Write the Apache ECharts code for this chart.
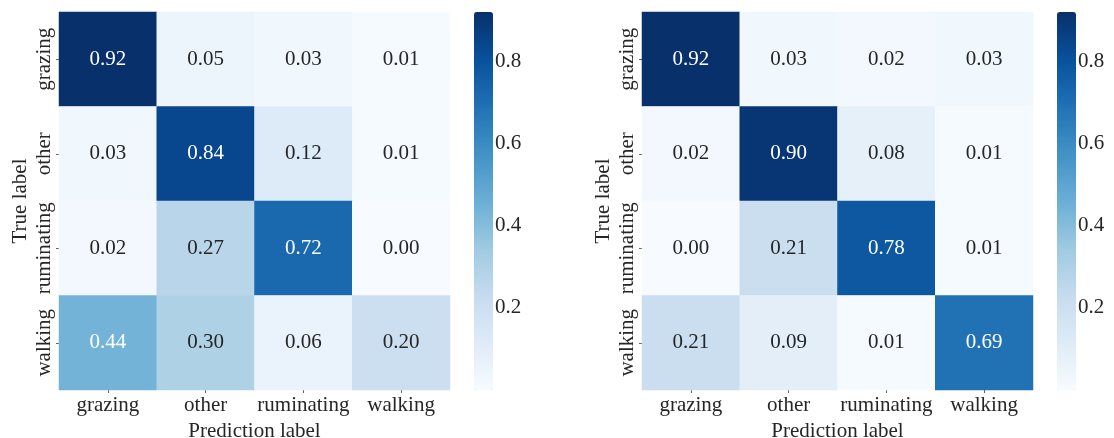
<!DOCTYPE html>
<html>
<head>
<meta charset="utf-8">
<script src="https://cdn.jsdelivr.net/npm/echarts@6/dist/echarts.min.js"></script>
<style>
html,body{margin:0;padding:0;background:#fff;}
#chart{width:1114px;height:438px;}
</style>
</head>
<body>
<div id="chart"></div>
<script>
// ---- data ----
const categories = ['grazing', 'other', 'ruminating', 'walking'];
const leftValues = [
  [0.92, 0.05, 0.03, 0.01],
  [0.03, 0.84, 0.12, 0.01],
  [0.02, 0.27, 0.72, 0.00],
  [0.44, 0.30, 0.06, 0.20]
];
const rightValues = [
  [0.92, 0.03, 0.02, 0.03],
  [0.02, 0.90, 0.08, 0.01],
  [0.00, 0.21, 0.78, 0.01],
  [0.21, 0.09, 0.01, 0.69]
];
const colorbarTicks = [0.2, 0.4, 0.6, 0.8];
const colorMin = 0.0;
const colorMax = 0.92;
const xName = 'Prediction label';
const yName = 'True label';

// ---- styling ----
const FONT = "'Liberation Serif','Times New Roman',serif";
const FS = 21;
const blues = ['#f7fbff','#deebf7','#c6dbef','#9ecae1','#6baed6','#4292c6','#2171b5','#08519c','#08306b'];
const panels = [
  {vals: leftValues, gridLeft: 59, gridWidth: 391, cbLeft: 474},
  {vals: rightValues, gridLeft: 642, gridWidth: 391, cbLeft: 1057}
];
const TOP = 12, HEIGHT = 378, CBW = 19;

function toData(vals) {
  const d = [];
  vals.forEach((row, yi) => row.forEach((v, xi) => {
    d.push({value: [xi, yi, v], label: {color: v > 0.4 ? '#ffffff' : '#262626'}});
  }));
  return d;
}

const grid = [], xAxis = [], yAxis = [], series = [], visualMap = [];
panels.forEach((p, i) => {
  grid.push({left: p.gridLeft, top: TOP, width: p.gridWidth, height: HEIGHT, containLabel: false, outerBoundsMode: 'none'});
  grid.push({left: p.cbLeft, top: TOP, width: CBW, height: HEIGHT, containLabel: false, outerBoundsMode: 'none'});
  xAxis.push({
    gridIndex: 2 * i, type: 'category', data: categories,
    axisLine: {show: false},
    axisTick: {show: true, alignWithLabel: true, interval: 0, length: 3, lineStyle: {color: '#666'}},
    axisLabel: {interval: 0, hideOverlap: false, fontFamily: FONT, fontSize: FS, color: '#262626', margin: 5},
    splitLine: {show: false},
    name: xName, nameLocation: 'middle', nameGap: 26,
    nameTextStyle: {fontFamily: FONT, fontSize: FS, color: '#262626'}
  });
  xAxis.push({gridIndex: 2 * i + 1, type: 'value', show: false, min: 0, max: 1});
  yAxis.push({
    gridIndex: 2 * i, type: 'category', data: categories, inverse: true,
    axisLine: {show: false},
    axisTick: {show: true, alignWithLabel: true, interval: 0, length: 3, lineStyle: {color: '#666'}},
    axisLabel: {interval: 0, hideOverlap: false, fontFamily: FONT, fontSize: FS, color: '#262626', rotate: 90, margin: 4},
    splitLine: {show: false},
    name: yName, nameLocation: 'middle', nameGap: 28, nameRotate: 90,
    nameTextStyle: {fontFamily: FONT, fontSize: FS, color: '#262626'}
  });
  yAxis.push({
    gridIndex: 2 * i + 1, type: 'value', position: 'right', min: colorMin, max: colorMax,
    axisLine: {show: false},
    splitLine: {show: false},
    axisTick: {show: true, length: 3, customValues: colorbarTicks, lineStyle: {color: '#444'}},
    axisLabel: {show: true, customValues: colorbarTicks, margin: 2, fontFamily: FONT, fontSize: FS, color: '#262626',
      formatter: v => v.toFixed(1)}
  });
  series.push({
    type: 'heatmap', xAxisIndex: 2 * i, yAxisIndex: 2 * i,
    data: toData(p.vals),
    label: {show: true, fontFamily: FONT, fontSize: FS, formatter: prm => prm.value[2].toFixed(2)},
    itemStyle: {borderWidth: 0},
    emphasis: {disabled: true}
  });
  visualMap.push({
    type: 'continuous', seriesIndex: i, dimension: 2, min: colorMin, max: colorMax,
    calculable: false, orient: 'vertical', left: p.cbLeft, top: TOP,
    itemWidth: CBW, itemHeight: HEIGHT, padding: 0, text: null, showLabel: false,
    inRange: {color: blues}, hoverLink: false
  });
});

const chart = echarts.init(document.getElementById('chart'), null, {renderer: 'canvas'});
chart.setOption({
  animation: false,
  backgroundColor: '#ffffff',
  grid, xAxis, yAxis, series, visualMap
});
</script>
</body>
</html>
